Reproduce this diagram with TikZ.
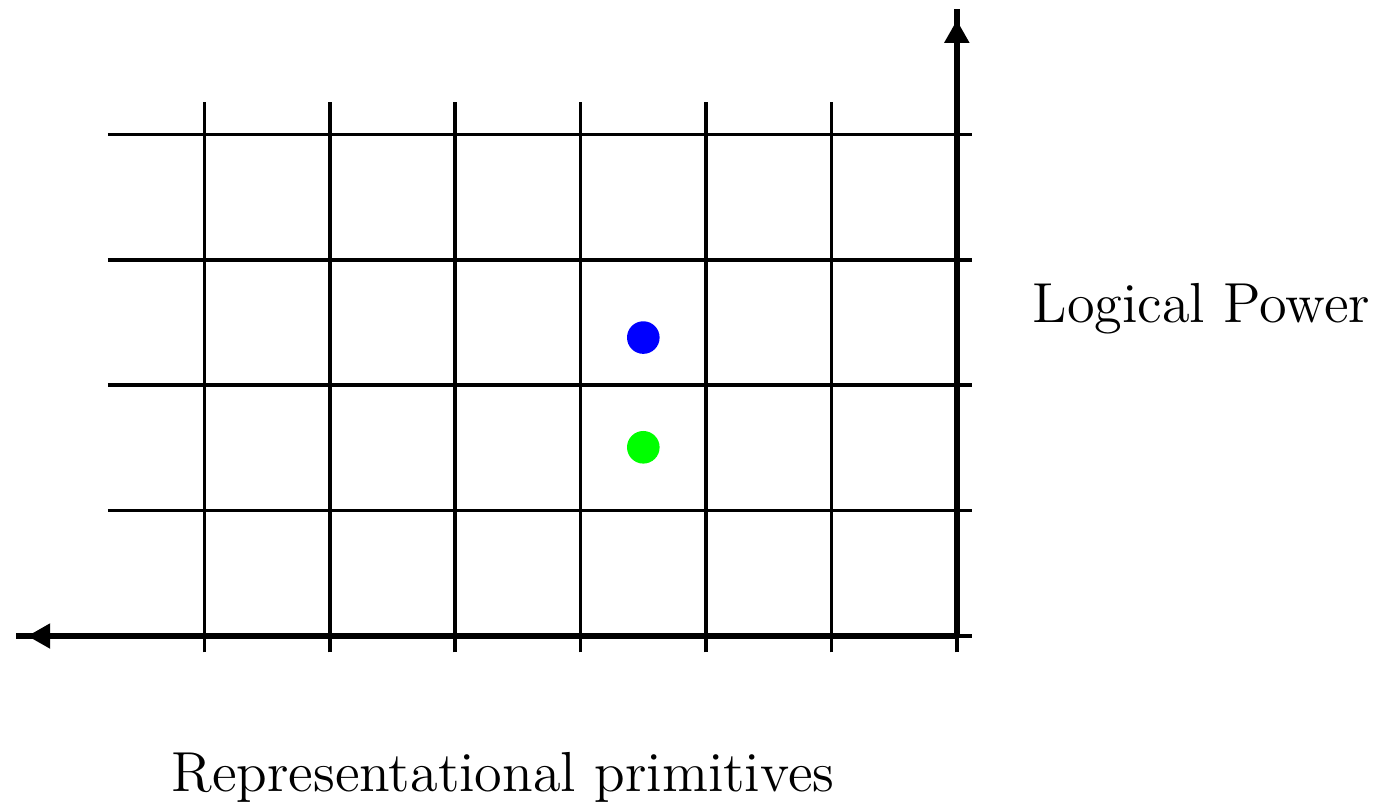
\documentclass[tikz,border=0pt]{standalone}
\usepackage{tikz}
\usetikzlibrary{arrows.meta}
\definecolor{dotblue}{RGB}{0,0,255}
\definecolor{dotgreen}{RGB}{0,255,0}
\begin{document}
\begin{tikzpicture}[
    gridline/.style={line width=0.85pt, black},
    axisline/.style={line width=1.5pt, black},
    axistip/.style={line width=1.5pt, -{Triangle[length=5.2pt, width=5.4pt]}, shorten >=2.5pt},
    dot/.style={circle, inner sep=0pt, minimum size=0.26cm},
    lbl/.style={font=\fontsize{12.8}{15}\selectfont, anchor=base}
  ]
  \useasboundingbox (-7.63,-1.324) rectangle (3.47,5.072);
  % grid
  \foreach \x in {-6,...,0}
    \draw[gridline] (\x,-0.13) -- (\x,4.26);
  \foreach \y in {0,...,4}
    \draw[gridline] (-6.77,\y) -- (0.12,\y);
  % axes
  \coordinate (o) at (0,0);
  \coordinate (xend) at (-7.5,0);
  \coordinate (yend) at (0,5);
  \draw[axisline] (o) -- (xend);
  \draw[axistip] (o) -- (xend);
  \draw[axisline] (o) -- (yend);
  \draw[axistip] (o) -- (yend);
  % points
  \node[dot, fill=dotblue] (pblue) at (-2.5,2.38) {};
  \node[dot, fill=dotgreen] (pgreen) at (-2.5,1.505) {};
  % labels
  \node[lbl] (power) at (1.95,2.5) {Logical Power};
  \node[lbl] (prim) at (-3.62,-1.24) {Representational primitives};
\end{tikzpicture}
\end{document}
